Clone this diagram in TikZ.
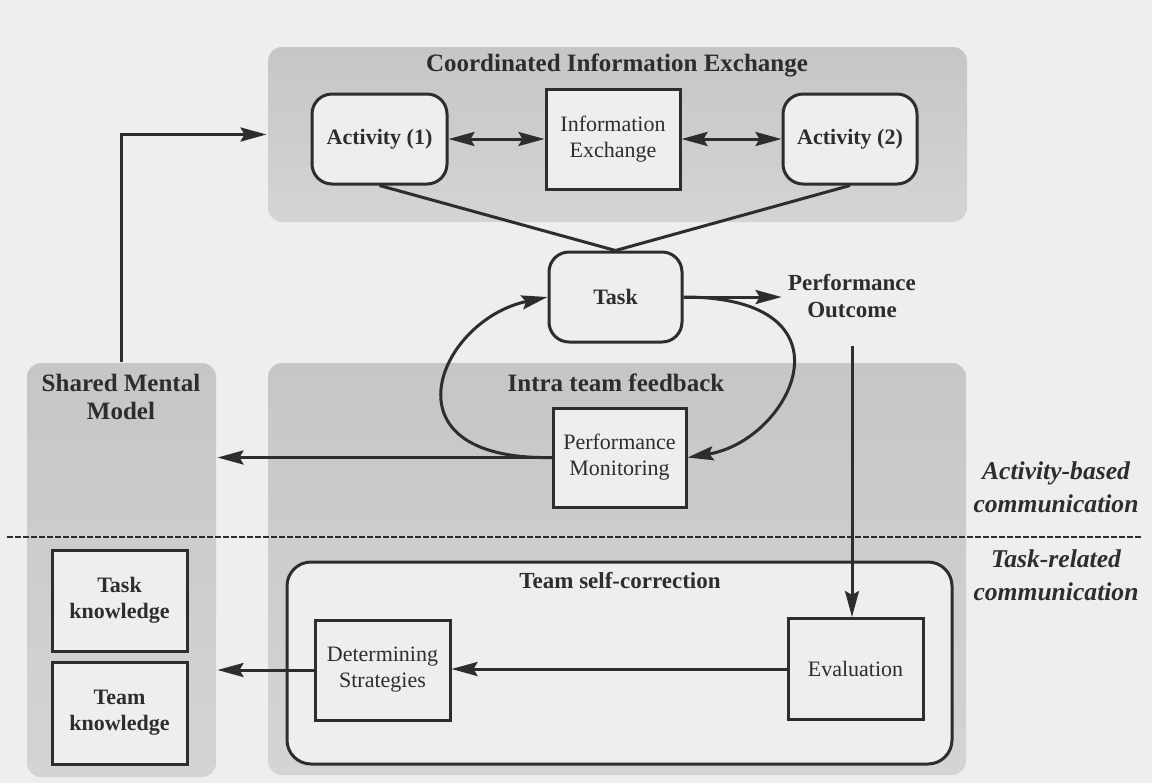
\documentclass[tikz,border=0pt]{standalone}
\usepackage{fontspec}
\setmainfont{Liberation Serif}
\usetikzlibrary{positioning, arrows.meta, backgrounds}

\definecolor{paper}{RGB}{238,238,236}
\definecolor{paneltop}{RGB}{198,198,196}
\definecolor{panelbot}{RGB}{212,212,210}
\definecolor{ink}{RGB}{45,45,45}

\begin{document}
\begin{tikzpicture}[x=0.5pt, y=-0.5pt, color=ink, line width=1.5pt,
    font=\fontsize{11}{13}\selectfont,
    >={Stealth[length=13pt, width=7pt, inset=2pt]},
    panel/.style={draw=none, rounded corners=7pt, inner sep=0pt,
        top color=paneltop, bottom color=panelbot},
    box/.style={draw, fill=paper, align=center, inner sep=2pt,
        minimum width=67.5pt, minimum height=50pt},
    rbox/.style={box, rounded corners=10pt, minimum height=45pt, font=\fontsize{11}{13}\selectfont\bfseries},
    title/.style={align=center, font=\fontsize{12.5}{14}\selectfont\bfseries},
    side/.style={align=center, font=\fontsize{12.8}{16.5}\selectfont\bfseries\itshape}]

    % paper
    \fill[paper] (0,0) rectangle (1152,783);
    \useasboundingbox (0,0) rectangle (1152,783);

    % shaded panels
    \node[panel, minimum width=349.5pt, minimum height=87.5pt] (cie) at (617.5,134.5) {};
    \node[panel, minimum width=349pt, minimum height=206pt] (itf) at (617,569) {};
    \node[panel, minimum width=94.5pt, minimum height=207pt] (smm) at (121.5,570) {};

    \node[title] (cietitle) at (617,65) {Coordinated Information Exchange};
    \node[title] (itftitle) at (616,383) {Intra team feedback};
    \node[title] (smmtitle) at (121,397) {Shared Mental\\Model};

    % team self-correction frame
    \node[draw, fill=paper, rounded corners=12pt, minimum width=332.5pt, minimum height=101pt] (tsc) at (619.5,663) {};
    \node[font=\fontsize{11.5}{13}\selectfont\bfseries] (tsctitle) at (620,581) {Team self-correction};

    % activity row
    \node[rbox] (act1) at (379.5,139) {Activity (1)};
    \node[box, minimum width=67pt] (infoex) at (613,139) {Information\\Exchange};
    \node[rbox, minimum width=67pt] (act2) at (850,139) {Activity (2)};

    \node[rbox, minimum width=66.5pt] (task) at (615.5,297) {Task};
    \node[font=\fontsize{11.5}{13.5}\selectfont\bfseries, align=center, inner sep=2.5pt] (perfout) at (852,296) {Performance\\Outcome};
    \node[box, minimum width=66.5pt, minimum height=49.5pt] (pm) at (619.5,457.5) {Performance\\Monitoring};

    % self-correction and knowledge boxes
    \node[box] (ds) at (382.5,670) {Determining\\Strategies};
    \node[box, minimum height=50.5pt] (eval) at (855.5,669) {Evaluation};
    \node[box, minimum height=50.5pt, font=\fontsize{11}{13}\selectfont\bfseries] (taskknow) at (119.5,600.5) {Task\\knowledge};
    \node[box, minimum height=51pt, font=\fontsize{11}{13}\selectfont\bfseries] (teamknow) at (119.5,713) {Team\\knowledge};

    % connectors
    \draw[<->] (act1.east) -- (infoex.west);
    \draw[<->] (infoex.east) -- (act2.west);
    \draw (act1.south) -- (task.north);
    \draw (act2.south) -- (task.north);
    \draw[->] (task.east) -- (task.east -| perfout.west);
    \draw[->] ([yshift=-11pt]perfout.south) -- (perfout.south |- eval.north);

    % feedback loop
    \draw[->] (pm.west) .. controls +(-173,3) and +(-109,23) .. (task.west);
    \draw[->] (task.east) .. controls +(178,0) and +(104,-17) .. (pm.east);

    \draw[->] (pm.west) -- (pm.west -| smm.east);
    \draw[->] (smm.north) |- (cie.west);
    \draw[->] (eval.west) -- (eval.west -| ds.east);
    \draw[->] (ds.west) -- (ds.west -| smm.east);

    % level separator
    \draw[line width=1.3pt, dash pattern=on 3pt off 1pt] (7,537) -- (1143,537);
    \node[side] (actcomm) at (1056,487) {Activity-based\\communication};
    \node[side] (taskcomm) at (1056,575) {Task-related\\communication};
\end{tikzpicture}
\end{document}
